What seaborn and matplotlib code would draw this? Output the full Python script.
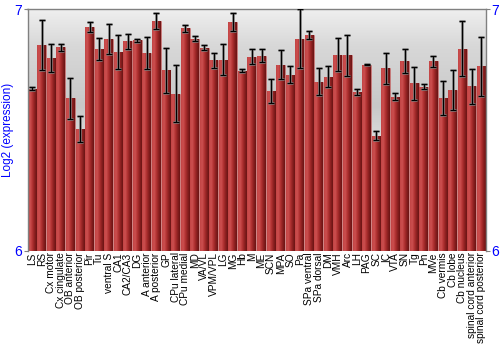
import numpy as np
import pandas as pd
import matplotlib
matplotlib.use("Agg")
import matplotlib.pyplot as plt
import seaborn as sns
from matplotlib.colors import LinearSegmentedColormap

regions = ["LS", "RS", "Cx motor", "Cx cingulate", "OB anterior", "OB posterior", "Pir", "Tu",
           "ventral S", "CA1", "CA2/CA3", "DG", "A anterior", "A posterior", "GP", "CPu lateral",
           "CPu medial", "MD", "VA/VL", "VPM/VPL", "LG", "MG", "Hb", "M", "ME", "SCN", "MPA",
           "SO", "Pa", "SPa ventral", "SPa dorsal", "DM", "VMH", "Arc", "LH", "PAG", "SC", "IC",
           "VTA", "SN", "Tg", "Pn", "MVe", "Cb vermis", "Cb lobe", "Cb nucleus",
           "spinal cord anterior", "spinal cord posterior"]
expression = [6.671, 6.851, 6.797, 6.842, 6.631, 6.506, 6.925, 6.835,
              6.878, 6.823, 6.867, 6.871, 6.817, 6.951, 6.747, 6.651,
              6.920, 6.878, 6.841, 6.788, 6.791, 6.946, 6.745, 6.803, 6.808, 6.663, 6.770,
              6.729, 6.878, 6.893, 6.700, 6.721, 6.812, 6.809, 6.657, 6.769, 6.477, 6.755,
              6.638, 6.787, 6.694, 6.679, 6.784, 6.632, 6.665, 6.837,
              6.680, 6.763]
error = [0.007, 0.104, 0.059, 0.014, 0.084, 0.054, 0.020, 0.044,
         0.062, 0.070, 0.031, 0.006, 0.066, 0.033, 0.093, 0.118,
         0.016, 0.011, 0.010, 0.030, 0.064, 0.036, 0.006, 0.032, 0.028, 0.050, 0.059,
         0.035, 0.123, 0.015, 0.057, 0.042, 0.070, 0.085, 0.013, 0.002, 0.018, 0.063,
         0.015, 0.050, 0.068, 0.010, 0.022, 0.071, 0.082, 0.112,
         0.071, 0.122]
y_ticks = [6, 7]

df = pd.DataFrame({"region": regions, "expr": expression, "err": error})

sns.set_style("white")
plt.rcParams["font.family"] = ["Liberation Sans", "DejaVu Sans"]

fig = plt.figure(figsize=(5, 3.5), dpi=100)
ax = fig.add_axes([0.055, 0.283, 0.917, 0.691])

# background gradient
bg = LinearSegmentedColormap.from_list("bg", [(0, "#ffffff"), (0.2, "#ffffff"), (0.6, "#c8c8c8"), (0.85, "#d8d8d8"), (1.0, "#efefef")])
grad = np.linspace(0, 1, 256).reshape(-1, 1)
ax.imshow(grad, cmap=bg, aspect="auto", extent=(-0.5, len(regions) - 0.5, 6, 7),
          origin="lower", zorder=0)

sns.barplot(data=df, x="region", y="expr", color="#b03434", width=0.94, ax=ax,
            edgecolor="#d07070", linewidth=0.4, zorder=2)

# horizontal gradient on bars
barcm = LinearSegmentedColormap.from_list("bar", ["#c24444", "#cc5050", "#b23232", "#8a2020", "#6a1414"])
hgrad = np.linspace(0, 1, 64).reshape(1, -1)
for p in list(ax.patches):
    x0 = p.get_x(); w = p.get_width(); h = p.get_height(); y0 = p.get_y()
    im = ax.imshow(hgrad, cmap=barcm, aspect="auto", extent=(x0, x0 + w, 6, y0 + h),
                   zorder=2.5)
    im.set_clip_path(p)

xs = np.arange(len(regions))
ax.errorbar(xs, df["expr"], yerr=df["err"], fmt="none", ecolor="#8a8a8a",
            elinewidth=1.8, capsize=2.4, capthick=1.8, zorder=3)
ax.errorbar(xs, df["expr"], yerr=df["err"], fmt="none", ecolor="black",
            elinewidth=0.9, capsize=2.1, capthick=0.9, zorder=4)

ax.set_xlim(-0.5, len(regions) - 0.5)
ax.set_ylim(6, 7)
ax.set_yticks(y_ticks)
ax.set_yticklabels([str(t) for t in y_ticks])
ax.tick_params(axis="y", colors="#808080", labelcolor="blue", labelsize=10,
               length=3, width=0.8, left=True, right=True, labelleft=True, labelright=True, pad=1)
ax.tick_params(axis="x", labelsize=7.3, length=0, pad=1, labelcolor="black")
plt.setp(ax.get_xticklabels(), rotation=90)
ax.set_xlabel("")
ax.set_ylabel("Log2 (expression)", color="blue", fontsize=8.5)
ax.yaxis.set_label_coords(-0.03, 0.5)
for s in ["left", "top", "right"]:
    ax.spines[s].set_color("#808080")
    ax.spines[s].set_linewidth(1.0)
ax.spines["bottom"].set_visible(False)

fig.savefig("out.png", dpi=100)
